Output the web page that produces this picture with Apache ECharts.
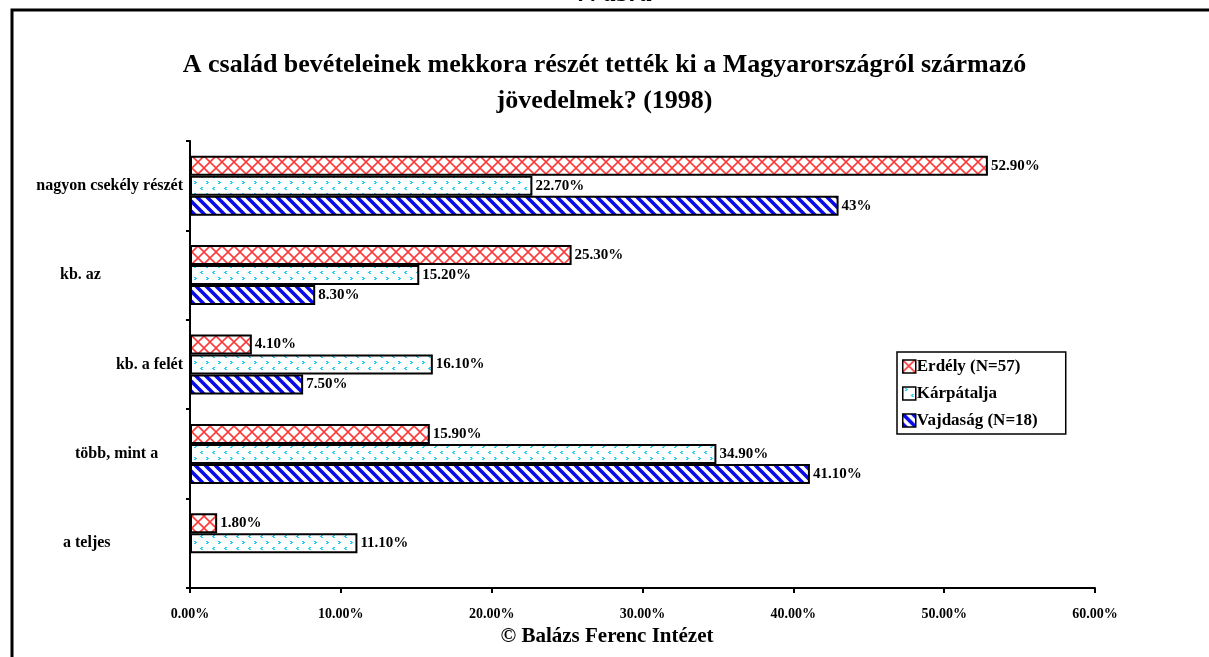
<!DOCTYPE html>
<html><head><meta charset="utf-8">
<script src="https://cdn.jsdelivr.net/npm/echarts@6/dist/echarts.min.js"></script>
<style>html,body{margin:0;padding:0;background:#fff}#c{width:1209px;height:657px}</style>
</head><body><div id="c"></div>
<script>
// ---- data ----
const categoryLines = [
  ['nagyon csekély részét'],
  ['kb. az', 'egynegyedét'],
  ['kb. a felét'],
  ['több, mint a', 'felét'],
  ['a teljes', 'jövedelmet']
];
const categories = categoryLines.map(l => l.join(' '));
const seriesNames = ['Erdély (N=57)', 'Kárpátalja', 'Vajdaság (N=18)'];
const erdely = [52.9, 25.3, 4.1, 15.9, 1.8];
const karpatalja = [22.7, 15.2, 16.1, 34.9, 11.1];
const vajdasag = [43, 8.3, 7.5, 41.1, null];
const erdelyLabels = ['52.90%', '25.30%', '4.10%', '15.90%', '1.80%'];
const karpataljaLabels = ['22.70%', '15.20%', '16.10%', '34.90%', '11.10%'];
const vajdasagLabels = ['43%', '8.30%', '7.50%', '41.10%', ''];
const xTickLabels = ['0.00%', '10.00%', '20.00%', '30.00%', '40.00%', '50.00%', '60.00%'];
const titleText = 'A család bevételeinek mekkora részét tették ki a Magyarországról származó\njövedelmek? (1998)';
const axisTitle = '© Balázs Ferenc Intézet';
const figureText = '7. ábra';

// ---- styling ----
const FONT = '"Liberation Serif", "Times New Roman", serif';
function tile(w, h, draw) {
  const c = document.createElement('canvas');
  c.width = w; c.height = h;
  const g = c.getContext('2d');
  g.fillStyle = '#ffffff'; g.fillRect(0, 0, w, h);
  draw(g, w, h);
  return { image: c, repeat: 'repeat' };
}
const redPattern = tile(12, 12, (g, w, h) => {
  g.strokeStyle = '#ff3c3c'; g.lineWidth = 1.6;
  g.beginPath();
  g.moveTo(0, 0); g.lineTo(w, h);
  g.moveTo(w, 0); g.lineTo(0, h);
  g.stroke();
});
const cyanPattern = tile(12, 12, (g) => {
  g.fillStyle = '#22d0f2';
  // ">" mark
  g.fillRect(2, 1, 2, 1); g.fillRect(3, 2, 2, 1); g.fillRect(2, 3, 2, 1);
  // "<" mark
  g.fillRect(9, 7, 2, 1); g.fillRect(8, 8, 2, 1); g.fillRect(9, 9, 2, 1);
});
const bluePattern = tile(10, 10, (g, w, h) => {
  g.strokeStyle = '#0a0ae8'; g.lineWidth = 3.6;
  g.beginPath();
  for (let k = -1; k <= 1; k++) {
    g.moveTo(k * w - 2, -2); g.lineTo(k * w + w + 2, h + 2);
  }
  g.stroke();
});
const patterns = [redPattern, cyanPattern, bluePattern];
const values = [erdely, karpatalja, vajdasag];
const labelTexts = [erdelyLabels, karpataljaLabels, vajdasagLabels];
const labelBoxWidth = [null, 123, null, 108, 120];

const rich = {};
categoryLines.forEach((l, i) => {
  rich['s' + i] = { fontFamily: FONT, fontWeight: 'bold', fontSize: 16, color: '#000' };
  if (labelBoxWidth[i]) { rich['s' + i].width = labelBoxWidth[i]; rich['s' + i].align = 'left'; }
});

const chart = echarts.init(document.getElementById('c'), null, { renderer: 'canvas' });
chart.setOption({
  backgroundColor: '#ffffff',
  animation: false,
  title: {
    text: titleText,
    left: 'center', top: 42,
    textStyle: { fontFamily: FONT, fontWeight: 'bold', fontSize: 26, color: '#000', lineHeight: 36 }
  },
  legend: {
    orient: 'vertical',
    left: 897, top: 352,
    data: seriesNames,
    backgroundColor: '#fff',
    borderColor: '#000', borderWidth: 1.5,
    padding: [6, 28, 5, 5],
    itemGap: 10,
    itemWidth: 13, itemHeight: 13,
    icon: 'rect',
    itemStyle: { borderColor: '#000', borderWidth: 1.5 },
    textStyle: { fontFamily: FONT, fontWeight: 'bold', fontSize: 17, color: '#000', padding: [0, 0, 0, -4] },
    selectedMode: false
  },
  grid: { left: 190, right: 114, top: 141, bottom: 69, containLabel: false },
  xAxis: {
    type: 'value', min: 0, max: 60, interval: 10,
    axisLine: { show: true, lineStyle: { color: '#000', width: 2 } },
    axisTick: { show: true, length: 5, lineStyle: { color: '#000', width: 2 } },
    splitLine: { show: false },
    axisLabel: {
      margin: 19,
      fontFamily: FONT, fontWeight: 'bold', fontSize: 14, color: '#000',
      formatter: v => xTickLabels[Math.round(v / 10)]
    }
  },
  yAxis: {
    type: 'category', inverse: true,
    data: categories,
    axisLine: { show: true, lineStyle: { color: '#000', width: 2 } },
    axisTick: { show: true, length: 4, lineStyle: { color: '#000', width: 2 } },
    axisLabel: {
      margin: 7,
      rich: rich,
      formatter: (v, i) => '{s' + i + '|' + categoryLines[i][0] + '}'
    }
  },
  graphic: [
    { type: 'rect', silent: true, z: -10, shape: { x: 12, y: 10, width: 1400, height: 800 },
      style: { fill: 'none', stroke: '#000', lineWidth: 3 } },
    { type: 'text', silent: true, x: 615, y: -6,
      style: { text: figureText, fill: '#000', font: 'italic bold 26px ' + FONT, textAlign: 'center', textVerticalAlign: 'middle' } },
    { type: 'text', silent: true, x: 607, y: 637,
      style: { text: axisTitle, fill: '#000', font: 'bold 21px ' + FONT, textAlign: 'center', textVerticalAlign: 'middle' } }
  ],
  series: seriesNames.map((name, s) => ({
    name: name,
    type: 'bar',
    data: values[s],
    barWidth: 20,
    barGap: '0%',
    itemStyle: { color: patterns[s], borderColor: '#000', borderWidth: 2 },
    label: {
      show: true, position: 'right', distance: 3,
      fontFamily: FONT, fontWeight: 'bold', fontSize: 15, color: '#000',
      formatter: p => labelTexts[s][p.dataIndex]
    }
  }))
});
</script>
</body></html>
